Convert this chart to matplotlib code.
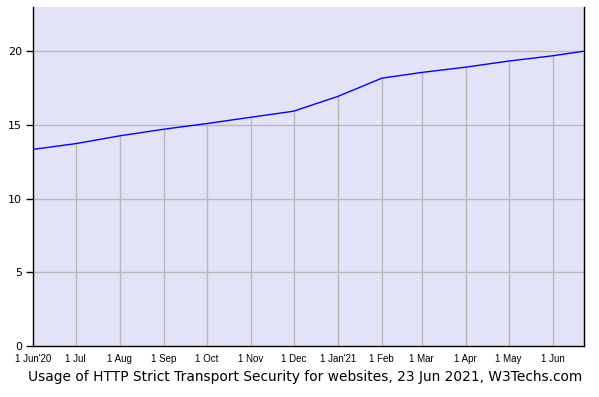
import datetime as dt

import matplotlib
matplotlib.use("Agg")
import matplotlib.pyplot as plt
import matplotlib.dates as mdates

# monthly HSTS usage share (% of websites)
dates = [dt.date(2020, 6, 1), dt.date(2020, 7, 1), dt.date(2020, 8, 1),
         dt.date(2020, 9, 1), dt.date(2020, 10, 1), dt.date(2020, 11, 1),
         dt.date(2020, 12, 1), dt.date(2021, 1, 1), dt.date(2021, 2, 1),
         dt.date(2021, 3, 1), dt.date(2021, 4, 1), dt.date(2021, 5, 1),
         dt.date(2021, 6, 1), dt.date(2021, 6, 23)]
values = [13.34, 13.73, 14.26, 14.71, 15.09, 15.52, 15.93,
          16.93, 18.17, 18.56, 18.92, 19.33, 19.69, 20.0]
tick_labels = ["1 Jun'20", "1 Jul", "1 Aug", "1 Sep", "1 Oct", "1 Nov", "1 Dec",
               "1 Jan'21", "1 Feb", "1 Mar", "1 Apr", "1 May", "1 Jun"]
yticks = [0, 5, 10, 15, 20]

W, H = 599, 397
fig = plt.figure(figsize=(W / 100, H / 100), dpi=100)
ax = fig.add_axes([33 / W, (H - 346) / H, (584 - 33) / W, (346 - 7) / H])
ax.set_facecolor("#e3e3f8")

grid_col = "#b9b9b9"
for y in yticks[1:]:
    ax.axhline(y, color=grid_col, lw=1, zorder=1)

# vertical grid only below the line, one per month
xnum = mdates.date2num(dates)
ax.vlines(xnum[1:-1], 0, values[1:-1], color=grid_col, lw=1, zorder=1)

ax.plot(xnum, values, color="#0000ff", lw=1, zorder=3)

ax.set_xlim(xnum[0], xnum[-1])
ax.set_ylim(0, 23.0)

ax.set_xticks(xnum[:-1])
ax.set_xticklabels(tick_labels, fontsize=7, family="Liberation Sans")
ax.tick_params(axis="x", length=0, pad=6)
ax.set_yticks(yticks)
ax.set_yticklabels([str(v) for v in yticks], fontsize=8)
ax.tick_params(axis="y", length=5, width=1, pad=3)

ax.spines["top"].set_visible(False)
for s in ["left", "bottom", "right"]:
    ax.spines[s].set_color("black")
    ax.spines[s].set_linewidth(1)

fig.text(305.5 / W, 1 - 377 / H,
         "Usage of HTTP Strict Transport Security for websites, 23 Jun 2021, W3Techs.com",
         ha="center", va="center", fontsize=9.9)

fig.savefig("out.png", dpi=100, facecolor="white")
